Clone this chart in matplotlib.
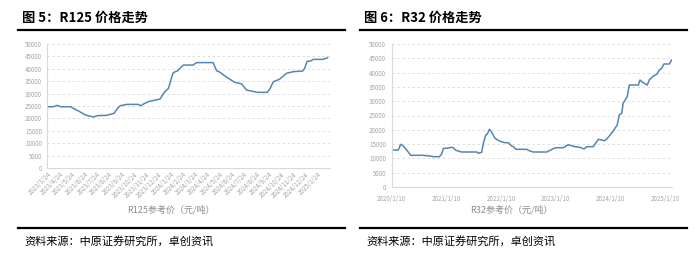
import pandas as pd
import numpy as np
import matplotlib.pyplot as plt
from matplotlib.lines import Line2D

plt.rcParams['font.family'] = ['Noto Sans CJK SC', 'DejaVu Sans']

# R125 reference price (yuan/ton)
r125_dates = ['2023-03-24', '2023-04-08', '2023-04-17', '2023-04-26', '2023-05-21',
              '2023-05-27', '2023-06-09', '2023-06-26', '2023-07-06', '2023-07-16',
              '2023-07-26', '2023-08-19', '2023-08-27', '2023-09-06', '2023-09-14',
              '2023-09-21', '2023-10-07', '2023-11-05', '2023-11-11', '2023-11-19',
              '2023-11-30', '2023-12-17', '2023-12-29', '2024-01-08', '2024-01-19',
              '2024-01-30', '2024-02-05', '2024-02-10', '2024-02-25', '2024-03-20',
              '2024-03-29', '2024-05-09', '2024-05-18', '2024-05-24', '2024-06-12',
              '2024-07-02', '2024-07-19', '2024-07-31', '2024-08-12', '2024-08-27',
              '2024-09-21', '2024-09-28', '2024-10-06', '2024-10-21', '2024-11-08',
              '2024-11-25', '2024-12-18', '2024-12-23', '2024-12-29', '2025-01-07',
              '2025-01-13', '2025-02-07', '2025-02-18']
r125_values = [24700, 24700, 25250, 24700, 24700,
               24050, 23000, 21400, 21000, 20550,
               21100, 21250, 21650, 22050, 24050,
               25100, 25650, 25650, 25100, 25900,
               26750, 27400, 27800, 30400, 32100,
               38200, 38850, 39100, 41500, 41500,
               42500, 42500, 39200, 38850, 36600,
               34550, 33900, 31450, 31050, 30500,
               30500, 32100, 34800, 35750, 38200,
               38850, 39100, 40200, 43000, 43150,
               43800, 43800, 44500]
r125_ticks = ['2023/3/24', '2023/4/24', '2023/5/24', '2023/6/24', '2023/7/24', '2023/8/24',
              '2023/9/24', '2023/10/24', '2023/11/24', '2023/12/24', '2024/1/24', '2024/2/24',
              '2024/3/24', '2024/4/24', '2024/5/24', '2024/6/24', '2024/7/24', '2024/8/24',
              '2024/9/24', '2024/10/24', '2024/11/24', '2024/12/24', '2025/1/24']

# R32 reference price (yuan/ton)
r32_dates = ['2020-01-10', '2020-02-23', '2020-03-10', '2020-03-27', '2020-04-19',
             '2020-05-16', '2020-08-08', '2020-09-22', '2020-10-14', '2020-11-23',
             '2020-12-09', '2020-12-20', '2021-01-11', '2021-02-14', '2021-02-24',
             '2021-03-14', '2021-04-21', '2021-07-31', '2021-08-10', '2021-09-02',
             '2021-09-13', '2021-09-29', '2021-10-09', '2021-10-23', '2021-11-03',
             '2021-11-30', '2021-12-28', '2022-02-04', '2022-02-27', '2022-03-21',
             '2022-04-01', '2022-04-19', '2022-06-29', '2022-07-21', '2022-08-12',
             '2022-11-10', '2022-12-20', '2023-01-11', '2023-03-01', '2023-04-03',
             '2023-05-18', '2023-06-20', '2023-07-17', '2023-08-04', '2023-09-17',
             '2023-10-21', '2023-12-04', '2023-12-26', '2024-01-25', '2024-02-24',
             '2024-03-09', '2024-03-25', '2024-04-04', '2024-05-01', '2024-05-15',
             '2024-07-14', '2024-07-25', '2024-08-12', '2024-09-12', '2024-09-25',
             '2024-10-22', '2024-11-14', '2024-12-01', '2024-12-17', '2025-01-01',
             '2025-02-06', '2025-02-22']
r32_values = [12940, 12940, 14930, 14340, 12940,
              11080, 11080, 10840, 10590, 10590,
              11540, 13530, 13530, 13880, 13740,
              12830, 12240, 12240, 11780, 12130,
              15280, 18180, 18430, 20170, 19580,
              17030, 16080, 15490, 15490, 14340,
              14090, 13180, 13180, 12590, 12240,
              12240, 13290, 13740, 13740, 14790,
              14090, 13880, 13290, 14090, 14090,
              16680, 16190, 17380, 19340, 21680,
              25170, 25770, 29270, 31570, 35660,
              35660, 37410, 36610, 35660, 37410,
              38810, 39410, 40910, 41510, 43010,
              43010, 44410]
r32_ticks = ['2020/1/10', '2021/1/10', '2022/1/10', '2023/1/10', '2024/1/10', '2025/1/10']

line_color = '#5585b3'
grid_color = '#d9d9d9'
tick_color = '#a6a6a6'

fig = plt.figure(figsize=(7, 2.6), dpi=100)


def style_axis(ax):
    ax.set_ylim(0, 50000)
    ax.set_yticks(np.arange(0, 50001, 5000))
    ax.yaxis.grid(True, color=grid_color, linestyle=(0, (3, 3)), linewidth=0.6)
    ax.set_axisbelow(True)
    for s in ['top', 'right']:
        ax.spines[s].set_visible(False)
    for s in ['left', 'bottom']:
        ax.spines[s].set_color(grid_color)
        ax.spines[s].set_linewidth(0.8)
    ax.tick_params(axis='y', length=0, labelsize=4.5, labelcolor=tick_color, pad=4)
    ax.tick_params(axis='x', length=0, labelsize=4.5, labelcolor=tick_color, pad=2)


# left chart: R125
ax1 = fig.add_axes([47.5 / 700, 92 / 260, 282.5 / 700, 124 / 260])
ax1.plot(pd.to_datetime(r125_dates), r125_values, color=line_color, linewidth=1.1)
style_axis(ax1)
t1 = pd.to_datetime(r125_ticks, format='%Y/%m/%d')
ax1.set_xticks(t1)
ax1.set_xticklabels(r125_ticks, rotation=45, ha='right', rotation_mode='anchor')
ax1.set_xlim(pd.Timestamp('2023-03-24'), pd.Timestamp('2025-02-24'))

# right chart: R32
ax2 = fig.add_axes([391.7 / 700, 73 / 260, 280.3 / 700, 143 / 260])
ax2.plot(pd.to_datetime(r32_dates), r32_values, color=line_color, linewidth=1.1)
style_axis(ax2)
ax2.tick_params(axis='x', pad=6)
t2 = pd.to_datetime(r32_ticks, format='%Y/%m/%d')
ax2.set_xticks(t2)
ax2.set_xticklabels(r32_ticks)
ax2.set_xlim(pd.Timestamp('2020-01-10'), pd.Timestamp('2025-02-24'))

# titles, rules, axis captions and sources
fig.text(22 / 700, 1 - 18 / 260, '图 5：R125 价格走势', fontsize=9.5, fontweight='bold',
         va='center', ha='left')
fig.text(364 / 700, 1 - 18 / 260, '图 6：R32 价格走势', fontsize=9.5, fontweight='bold',
         va='center', ha='left')

for x0, x1 in [(18, 345), (360, 687)]:
    for y in [30, 228]:
        fig.add_artist(Line2D([x0 / 700, x1 / 700], [1 - y / 260, 1 - y / 260],
                              color='black', linewidth=1.6))

fig.text(171 / 700, 1 - 210 / 260, 'R125参考价（元/吨）', fontsize=6.5, color='#8c8c8c',
         ha='center', va='center')
fig.text(511 / 700, 1 - 210 / 260, 'R32参考价（元/吨）', fontsize=6.5, color='#8c8c8c',
         ha='center', va='center')

fig.text(24 / 700, 1 - 242 / 260, '资料来源：中原证券研究所，卓创资讯', fontsize=8,
         ha='left', va='center')
fig.text(366 / 700, 1 - 242 / 260, '资料来源：中原证券研究所，卓创资讯', fontsize=8,
         ha='left', va='center')

plt.savefig('out.png', dpi=100, facecolor='white')
